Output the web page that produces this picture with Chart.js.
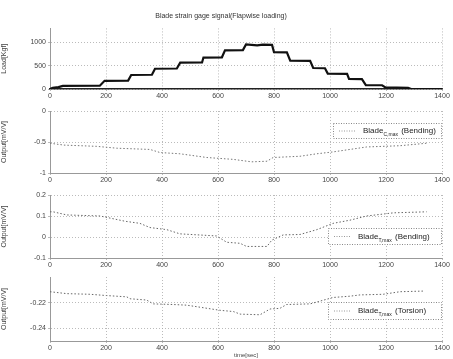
<!DOCTYPE html>
<html>
<head>
<meta charset="utf-8">
<script src="https://cdn.jsdelivr.net/npm/chart.js@4"></script>
<style>
body { margin:0; background:#fff; width:453px; height:359px; position:relative; overflow:hidden; }
canvas { position:absolute; left:0; }
</style>
</head>
<body>
<canvas id="c1" width="453" height="101" style="top:0"></canvas>
<canvas id="c2" width="453" height="82" style="top:103px"></canvas>
<canvas id="c3" width="453" height="84" style="top:186px"></canvas>
<canvas id="c4" width="453" height="91" style="top:268px"></canvas>
<script>
// time axis ticks
var timeTicks = [0, 200, 400, 600, 800, 1000, 1200, 1400];

// load signal (staircase)
var loadTime = [0, 10, 30, 46, 178, 195, 279, 290, 364, 375, 453, 465, 543, 548, 614, 625, 689, 700, 740, 760, 793, 800, 846, 858, 929, 940, 982, 992, 1061, 1068, 1114, 1128, 1186, 1198, 1279, 1290, 1400];
var loadValue = [0, 25, 40, 65, 70, 175, 180, 300, 305, 435, 440, 565, 570, 675, 680, 830, 835, 955, 935, 950, 945, 790, 785, 610, 605, 450, 445, 330, 325, 215, 210, 85, 80, 35, 25, 0, 0];

// bending output 1
var bend1Time = [0, 50, 167, 238, 357, 393, 464, 560, 654, 720, 775, 797, 893, 953, 1011, 1071, 1131, 1250, 1345];
var bend1Value = [-0.52, -0.55, -0.57, -0.6, -0.62, -0.67, -0.69, -0.75, -0.78, -0.82, -0.81, -0.75, -0.73, -0.69, -0.66, -0.62, -0.58, -0.56, -0.52];

// bending output 2
var bend2Time = [0, 11, 60, 179, 268, 321, 357, 417, 464, 595, 631, 679, 702, 775, 792, 833, 893, 953, 1011, 1071, 1131, 1226, 1345];
var bend2Value = [0.12, 0.12, 0.105, 0.1, 0.075, 0.065, 0.045, 0.035, 0.015, 0.005, -0.025, -0.03, -0.045, -0.045, -0.015, 0.01, 0.012, 0.035, 0.065, 0.08, 0.1, 0.115, 0.12];

// torsion output
var torTime = [0, 60, 143, 202, 274, 286, 345, 369, 440, 488, 607, 655, 679, 750, 786, 821, 845, 929, 1011, 1071, 1107, 1190, 1250, 1333];
var torValue = [-0.2115, -0.213, -0.2135, -0.2145, -0.2155, -0.217, -0.218, -0.221, -0.2215, -0.222, -0.226, -0.227, -0.229, -0.2295, -0.225, -0.2245, -0.2215, -0.221, -0.216, -0.215, -0.214, -0.2135, -0.2115, -0.211];

var loadTicks = [0, 500, 1000];
var bend1Ticks = [-1, -0.5, 0];
var bend2Ticks = [-0.1, 0, 0.1, 0.2];
var torTicks = [-0.24, -0.22];

var textColor = '#444';
var gridColor = '#aaa';
var font = { family: 'Liberation Sans', size: 7 };

function pts(t, v) {
  return t.map(function (x, i) { return { x: x, y: v[i] }; });
}
function plain(v) { return String(v); }

var legendBox = {
  id: 'legendBox',
  afterDraw: function (chart, args, o) {
    if (!o.label) return;
    var a = chart.chartArea, ctx = chart.ctx;
    var x0 = a.left + o.left, y0 = a.top + o.top, w = a.right - x0, h = o.height;
    ctx.save();
    ctx.fillStyle = '#fff';
    ctx.fillRect(x0, y0, w, h);
    ctx.strokeStyle = '#888';
    ctx.setLineDash([1, 1.5]);
    ctx.lineWidth = 1;
    ctx.strokeRect(x0 + 0.5, y0 + 0.5, w - 1, h - 1);
    ctx.beginPath();
    ctx.moveTo(x0 + 6, y0 + h / 2);
    ctx.lineTo(x0 + 22, y0 + h / 2);
    ctx.strokeStyle = '#999';
    ctx.stroke();
    ctx.setLineDash([]);
    ctx.fillStyle = '#222';
    ctx.textBaseline = 'middle';
    ctx.font = '8px "Liberation Sans"';
    var tx = x0 + 30, ty = y0 + h / 2;
    ctx.fillText('Blade', tx, ty);
    tx += ctx.measureText('Blade').width;
    ctx.font = '5px "Liberation Sans"';
    ctx.fillText(o.sub, tx, ty + 4);
    tx += ctx.measureText(o.sub).width + 1;
    ctx.font = '8px "Liberation Sans"';
    ctx.fillText(o.label, tx, ty);
    ctx.restore();
  }
};

function makeChart(id, data, color, width, dash, yMin, yMax, yTicks, yTitle, opts) {
  return new Chart(document.getElementById(id), {
    type: 'line',
    data: {
      datasets: [{
        data: data,
        borderColor: color,
        borderWidth: width,
        borderDash: dash,
        pointRadius: 0,
        tension: 0,
        fill: false
      }]
    },
    plugins: [legendBox],
    options: {
      responsive: false,
      animation: false,
      layout: { padding: { top: opts.padTop, right: 11, left: 0, bottom: 0 } },
      plugins: {
        legend: { display: false },
        tooltip: { enabled: false },
        title: opts.title ? {
          display: true, text: opts.title, color: '#333',
          font: { family: 'Liberation Sans', size: 7, weight: 'normal' }, padding: { top: 12, bottom: 8 }
        } : { display: false },
        legendBox: opts.legend || {}
      },
      scales: {
        x: {
          type: 'linear', min: 0, max: 1400,
          afterBuildTicks: function (s) { s.ticks = timeTicks.map(function (v) { return { value: v }; }); },
          afterFit: function (s) { s.height = opts.xHeight || 12; },
          ticks: { color: textColor, font: font, padding: 1, maxRotation: 0, callback: plain },
          grid: { color: gridColor, tickLength: 2, lineWidth: 0.8 },
          border: { color: opts.bottomColor || '#999', dash: [1, 2], width: opts.bottomWidth || 1 },
          title: opts.xTitle ? { display: true, text: opts.xTitle, color: textColor, font: { family: 'Liberation Sans', size: 6 }, padding: 0 } : { display: false }
        },
        y: {
          min: yMin, max: yMax,
          afterBuildTicks: function (s) { s.ticks = yTicks.map(function (v) { return { value: v }; }); },
          afterFit: function (s) { s.width = 50; },
          ticks: { color: textColor, font: font, padding: 2, callback: plain },
          grid: { color: gridColor, tickLength: 2, lineWidth: 0.8 },
          border: { color: '#999', dash: [1, 2] },
          title: { display: true, text: yTitle, color: textColor, font: { family: 'Liberation Sans', size: 7 }, padding: 0 }
        }
      }
    }
  });
}

makeChart('c1', pts(loadTime, loadValue), '#111', 2.2, [], 0, 1300, loadTicks, 'Load[Kgf]', {
  padTop: 0, title: 'Blade strain gage signal(Flapwise loading)', bottomColor: '#222', bottomWidth: 1.5
});
makeChart('c2', pts(bend1Time, bend1Value), '#777', 1, [1.5, 2], -1, 0, bend1Ticks, 'Output[mV/V]', {
  padTop: 8, legend: { left: 283, top: 12, height: 16, sub: 'C,max', label: ' (Bending)' }
});
makeChart('c3', pts(bend2Time, bend2Value), '#666', 1, [1.5, 2], -0.1, 0.2, bend2Ticks, 'Output[mV/V]', {
  padTop: 9, legend: { left: 278, top: 33, height: 17, sub: 'T,max', label: ' (Bending)' }
});
makeChart('c4', pts(torTime, torValue), '#666', 1, [1.5, 2], -0.25, -0.2, torTicks, 'Output[mV/V]', {
  padTop: 9, xHeight: 18, xTitle: 'time[sec]', legend: { left: 278, top: 25, height: 18, sub: 'T,max', label: ' (Torsion)' }
});
</script>
</body>
</html>
